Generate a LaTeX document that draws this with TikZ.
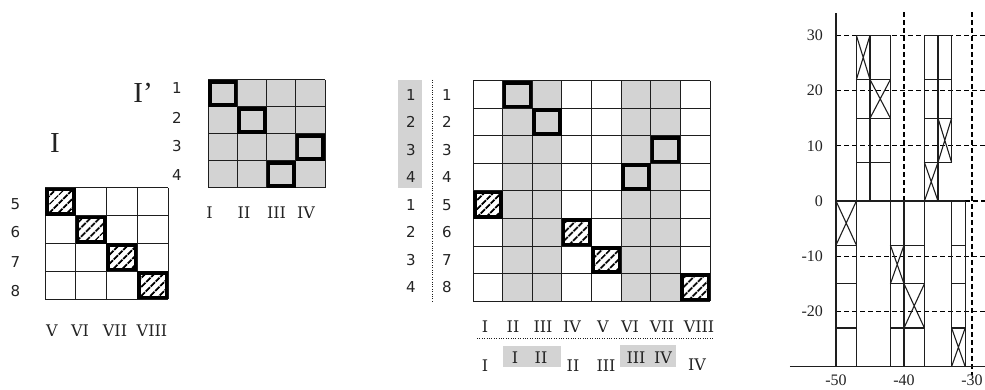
\documentclass[tikz,border=0pt]{standalone}
\usepackage{fontspec}
\setmainfont{Liberation Serif}
\newfontfamily\digitfont{DejaVu Sans}
\newfontfamily\romfont{DejaVu Serif}
\usetikzlibrary{patterns.meta}
\definecolor{cellgray}{RGB}{211,211,211}
\definecolor{gridcol}{RGB}{30,30,30}
\definecolor{txtcol}{RGB}{35,35,35}
\begin{document}
\begin{tikzpicture}[x=1pt,y=-1pt,
  gridline/.style={draw=gridcol, line width=1pt},
  thickbox/.style={draw=black, line width=3.6pt},
  hatchfill/.style={pattern={Lines[angle=45,distance=6.5pt,line width=2.2pt]}, pattern color=black},
  numlab/.style={font=\digitfont\fontsize{15}{17}\selectfont, text=txtcol, inner sep=0pt},
  romlab/.style={font=\romfont\fontsize{16}{18}\selectfont, text=txtcol, inner sep=0pt},
  biglab/.style={font=\fontsize{29}{32}\selectfont, text=txtcol, inner sep=0pt},
  ticklab/.style={font=\fontsize{16}{18}\selectfont, text=txtcol, inner sep=0pt},
  dotline/.style={draw=gridcol, line width=0.8pt, dash pattern=on 0.8pt off 1.6pt},
  chartline/.style={draw=gridcol, line width=1.1pt},
  dashline/.style={draw=black, line width=1.1pt, dash pattern=on 5pt off 3pt}
]
\useasboundingbox (0,0) rectangle (985,390);

% ---------------- Matrix I ----------------
\foreach \k in {0,...,3} \fill[hatchfill] ({45+\k*30.75+2},{188+\k*27.75+2}) rectangle ++(26.75,23.75);
\foreach \i in {0,...,4} {
  \draw[gridline] ({45+\i*30.75},188) -- ++(0,111);
  \draw[gridline] (45,{188+\i*27.75}) -- ++(123,0);
}
\foreach \k in {0,...,3} \draw[thickbox] ({45+\k*30.75+1.7},{188+\k*27.75+1.7}) rectangle ++(27.35,24.35);
\node[biglab] (labI) at (55,143) {I};
\node[numlab] (r5) at (15.5,204) {5};
\node[numlab] (r6) at (15.5,232) {6};
\node[numlab] (r7) at (15.5,262) {7};
\node[numlab] (r8) at (15.5,291) {8};
\node[romlab] (c5) at (52,331) {V};
\node[romlab] (c6) at (80,331) {VI};
\node[romlab] (c7) at (115,331) {VII};
\node[romlab] (c8) at (152,331) {VIII};

% ---------------- Matrix I' ----------------
\fill[cellgray] (208,80) rectangle (325,188);
\foreach \i in {0,...,4} {
  \draw[gridline] ({208+\i*29.25},80) -- ++(0,108);
  \draw[gridline] (208,{80+\i*27}) -- ++(117,0);
}
\foreach \c/\r in {0/0,1/1,3/2,2/3} \draw[thickbox] ({208+\c*29.25+1.8},{80+\r*27+1.8}) rectangle ++(25.65,23.4);
\node[biglab] (labIp) at (143,93) {I’};
\node[numlab] (p1) at (177,88) {1};
\node[numlab] (p2) at (177,118) {2};
\node[numlab] (p3) at (177,146) {3};
\node[numlab] (p4) at (177,175) {4};
\node[romlab] (pc1) at (209.5,213) {I};
\node[romlab] (pc2) at (244,213) {II};
\node[romlab] (pc3) at (276.5,213) {III};
\node[romlab] (pc4) at (306,213) {IV};

% ---------------- Middle matrix ----------------
\foreach \c in {1,2,5,6} \fill[cellgray] ({473+\c*29.625},81) rectangle ++(29.625,220);
\foreach \c/\r in {0/4,3/5,4/6,7/7} \fill[hatchfill] ({473+\c*29.625+2},{81+\r*27.5+2}) rectangle ++(25.625,23.5);
\foreach \i in {0,...,8} {
  \draw[gridline] ({473+\i*29.625},81) -- ++(0,220);
  \draw[gridline] (473,{81+\i*27.5}) -- ++(237,0);
}
\foreach \c/\r in {1/0,2/1,6/2,5/3} \draw[thickbox] ({473+\c*29.625+1.8},{81+\r*27.5+1.8}) rectangle ++(26.025,23.9);
\foreach \c/\r in {0/4,3/5,4/6,7/7} \draw[thickbox] ({473+\c*29.625+1.7},{81+\r*27.5+1.7}) rectangle ++(26.225,24.1);

\fill[cellgray] (398,80) rectangle (422,188);
\draw[dotline] (432,80) -- (432,302);
\foreach \t [count=\n from 0] in {1,2,3,4,1,2,3,4}
  \node[numlab] (ma\n) at (411,{94.75+\n*27.5}) {\t};
\foreach \t [count=\n from 0] in {1,2,3,4,5,6,7,8}
  \node[numlab] (mb\n) at (447,{94.75+\n*27.5}) {\t};

\foreach \t/\xx [count=\n] in {I/485,II/513,III/543,IV/572,V/603,VI/630,VII/662,VIII/699}
  \node[romlab] (mc\n) at (\xx,326.5) {\t};
\draw[dotline] (477,338) -- (713,338);
\fill[cellgray] (503,346) rectangle (561,367);
\fill[cellgray] (620,345) rectangle (676,367);
\node[romlab] (md1) at (485,366) {I};
\node[romlab] (md2) at (515,357.5) {I};
\node[romlab] (md3) at (541,357.5) {II};
\node[romlab] (md4) at (573,366) {II};
\node[romlab] (md5) at (606,366) {III};
\node[romlab] (md6) at (636,358) {III};
\node[romlab] (md7) at (663,358) {IV};
\node[romlab] (md8) at (697,365) {IV};

% ---------------- Chart ----------------
\begin{scope}[shift={(1176,201)}, x=6.8pt, y=5.52pt]
  % dashed grid
  \foreach \v in {30,20,10,-10,-20} \draw[dashline] (-50,\v) -- (-28.1,\v);
  \draw[dashline] (-31,0) -- (-28.1,0);
  \draw[dashline] (-40,34.2) -- (-40,-30);
  \draw[dashline] (-30,34.2) -- (-30,-31.5);
  % axes
  \draw[chartline] (-50,34) -- (-50,-30);
  \draw[chartline] (-56.8,-30) -- (-28.1,-30);
  % upper group A
  \draw[chartline] (-47,0) rectangle (-42,30);
  \draw[chartline] (-45,0) -- (-45,30);
  \foreach \v in {22,15,7} \draw[chartline] (-47,\v) -- (-42,\v);
  \draw[chartline] (-47,22) -- (-45,30) (-47,30) -- (-45,22);
  \draw[chartline] (-45,15) -- (-42,22) (-45,22) -- (-42,15);
  % upper group B
  \draw[chartline] (-37,0) -- (-37,30) -- (-33,30) -- (-33,7);
  \draw[chartline] (-35,0) -- (-35,30);
  \foreach \v in {22,15,7} \draw[chartline] (-37,\v) -- (-33,\v);
  \draw[chartline] (-35,7) -- (-33,15) (-35,15) -- (-33,7);
  \draw[chartline] (-37,0) -- (-35,7) (-37,7) -- (-35,0);
  % zero line
  \draw[chartline] (-50,0) -- (-31,0);
  % lower block 1
  \draw[chartline] (-47,0) -- (-47,-30);
  \foreach \v in {-8,-15,-23} \draw[chartline] (-50,\v) -- (-47,\v);
  \draw[chartline] (-50,-8) -- (-47,0) (-50,0) -- (-47,-8);
  % lower block 2
  \foreach \u in {-42,-40,-37} \draw[chartline] (\u,0) -- (\u,-30);
  \foreach \v in {-8,-15,-23} \draw[chartline] (-42,\v) -- (-37,\v);
  \draw[chartline] (-42,-15) -- (-40,-8) (-42,-8) -- (-40,-15);
  \draw[chartline] (-40,-23) -- (-37,-15) (-40,-15) -- (-37,-23);
  % lower block 3
  \foreach \u in {-33,-31} \draw[chartline] (\u,0) -- (\u,-30);
  \foreach \v in {-8,-15,-23} \draw[chartline] (-33,\v) -- (-31,\v);
  \draw[chartline] (-33,-30) -- (-31,-23) (-33,-23) -- (-31,-30);
  % tick labels
  \foreach \v/\t [count=\n] in {30/30,20/20,10/10,0/0,-10/-10,-20/-20}
    \node[ticklab, anchor=east] (ty\n) at (-51.9,\v) {\t};
  \foreach \u [count=\n] in {-50,-40,-30}
    \node[ticklab] (tx\n) at (\u,-32.5) {\u};
\end{scope}
\end{tikzpicture}
\end{document}
